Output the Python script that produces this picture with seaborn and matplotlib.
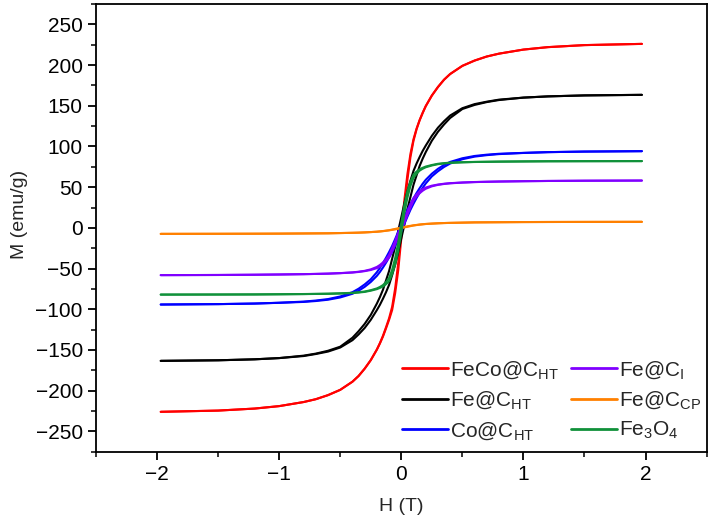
import numpy as np
import pandas as pd
import matplotlib
matplotlib.use('Agg')
import matplotlib.pyplot as plt
from matplotlib.lines import Line2D
from matplotlib.ticker import MultipleLocator
import seaborn as sns

# field grid (T), shared by both loop branches
H_GRID = [-1.97, -1.5, -1.2, -1.0, -0.8, -0.7, -0.6, -0.5, -0.4, -0.35, -0.3, -0.25, -0.2,
          -0.175, -0.15, -0.125, -0.1, -0.075, -0.05, -0.025, 0.0, 0.025, 0.05, 0.075, 0.1,
          0.125, 0.15, 0.175, 0.2, 0.25, 0.3, 0.35, 0.4, 0.5, 0.6, 0.7, 0.8, 1.0, 1.2, 1.5, 1.97]

# descending (upper) and ascending (lower) branches, emu/g
fecoc_ht_down = [-226, -224.5, -222, -219, -214, -210.5, -205.5, -199, -189, -182,
                 -173, -162.5, -149.5, -141.5, -132.5, -122, -111, -97, -74, -43,
                 -3, 34, 66, 91, 109, 122, 132.5, 141.5, 149.5, 162.5,
                 173, 182, 189, 199, 205.5, 210.5, 214, 219, 222, 224.5, 226]
fecoc_ht_up = [-226, -224.5, -222, -219, -214, -210.5, -205.5, -199, -189, -182,
               -173, -162.5, -149.5, -142, -133.5, -123.5, -113, -101, -80, -52,
               -13, 25, 59, 87, 107, 121, 132, 141, 149.5, 162.5,
               173, 182, 189, 199, 205.5, 210.5, 214, 219, 222, 224.5, 226]

fec_ht_down = [-163.4, -162.7, -161.5, -160, -157, -154.5, -151, -146, -135, -127,
               -118, -107, -93, -85, -76, -64.5, -53, -38, -23, -3.5,
               13, 30, 45, 58, 70, 79, 87, 94.5, 101, 113,
               123, 131, 138, 147, 152, 155, 157.5, 160, 161.5, 162.7, 163.4]
fec_ht_up = [-163.4, -162.7, -161.5, -160, -157.5, -155, -152, -147, -138, -131,
             -123, -113, -101, -94.5, -87, -79, -70, -58, -45, -30,
             -13, 3.5, 23, 38, 53, 64.5, 76, 85, 93, 107,
             118, 127, 135, 146, 151, 154.5, 157, 160, 161.5, 162.7, 163.4]

coc_ht_down = [-94.2, -93.7, -93, -92, -90.6, -89.3, -87.5, -84.3, -79, -74.8,
               -69.5, -63.2, -54.5, -49.2, -43.2, -36.7, -29.7, -22.2, -13.7, -4.7,
               4.3, 13.3, 22, 29.5, 36.3, 42.8, 48.7, 54.2, 59, 66.5,
               72.5, 77.3, 81, 85.5, 88.3, 89.9, 91, 92.1, 93, 93.7, 94.2]
coc_ht_up = [-94.2, -93.7, -93, -92.1, -91, -89.9, -88.3, -85.5, -81, -77.3,
             -72.5, -66.5, -59, -54.2, -48.7, -42.8, -36.3, -29.5, -22, -13.3,
             -4.3, 4.7, 13.7, 22.2, 29.7, 36.7, 43.2, 49.2, 54.5, 63.2,
             69.5, 74.8, 79, 84.3, 87.5, 89.3, 90.6, 92, 93, 93.7, 94.2]

fec_i_down = [-58.1, -57.9, -57.6, -57.3, -56.9, -56.6, -56.2, -55.6, -54.7, -53.9,
              -52.8, -51, -48, -45.6, -42.5, -38.5, -33.5, -25, -16, -6,
              2, 10, 20, 29, 36.5, 41.2, 45, 47.6, 49.5, 51.8,
              53.2, 54.2, 54.9, 55.7, 56.3, 56.6, 56.9, 57.3, 57.6, 57.9, 58.1]
fec_i_up = [-58.1, -57.9, -57.6, -57.3, -56.9, -56.6, -56.3, -55.7, -54.9, -54.2,
            -53.2, -51.8, -49.5, -47.6, -45, -41.2, -36.5, -29, -20, -10,
            -2, 6, 16, 25, 33.5, 38.5, 42.5, 45.6, 48, 51,
            52.8, 53.9, 54.7, 55.6, 56.2, 56.6, 56.9, 57.3, 57.6, 57.9, 58.1]

fec_cp_down = [-7.4, -7.3, -7.2, -7.1, -6.9, -6.8, -6.7, -6.4, -6.1, -5.9,
               -5.6, -5.2, -4.7, -4.3, -3.9, -3.4, -2.9, -2.1, -1.3, -0.5,
               0.3, 1.1, 1.9, 2.5, 3.1, 3.6, 4.1, 4.5, 4.8, 5.2,
               5.6, 5.9, 6.1, 6.4, 6.7, 6.8, 6.9, 7.1, 7.2, 7.3, 7.4]
fec_cp_up = [-7.4, -7.3, -7.2, -7.1, -6.9, -6.8, -6.7, -6.4, -6.1, -5.9,
             -5.6, -5.2, -4.8, -4.5, -4.1, -3.6, -3.1, -2.5, -1.9, -1.1,
             -0.3, 0.5, 1.3, 2.1, 2.9, 3.4, 3.9, 4.3, 4.7, 5.2,
             5.6, 5.9, 6.1, 6.4, 6.7, 6.8, 6.9, 7.1, 7.2, 7.3, 7.4]

fe3o4_down = [-82, -81.9, -81.8, -81.6, -81.3, -81.1, -80.9, -80.4, -79.8, -79.1,
              -78.2, -76.6, -74.4, -72.6, -70.3, -66.5, -61.5, -51.5, -37, -18,
              6, 28, 45, 57, 65.5, 69.2, 72, 73.8, 75.3, 77.2,
              78.7, 79.5, 80.1, 80.7, 81, 81.2, 81.4, 81.6, 81.8, 81.9, 82]
fe3o4_up = [-82, -81.9, -81.8, -81.6, -81.4, -81.2, -81, -80.7, -80.1, -79.5,
            -78.7, -77.2, -75.3, -73.8, -72, -69.2, -65.5, -57, -45, -28,
            -6, 18, 37, 51.5, 61.5, 66.5, 70.3, 72.6, 74.4, 76.6,
            78.2, 79.1, 79.8, 80.4, 80.9, 81.1, 81.3, 81.6, 81.8, 81.9, 82]

SAMPLES = ['FeCo@C$_{HT}$', 'Fe@C$_{HT}$', 'Co@C$_{HT}$',
           'Fe@C$_{I}$', 'Fe@C$_{CP}$', 'Fe$_{3}$O$_{4}$']
COLORS = ['#ff0000', '#000000', '#0000ff', '#8000ff', '#ff8000', '#10913a']
BRANCHES = [(fecoc_ht_down, fecoc_ht_up), (fec_ht_down, fec_ht_up), (coc_ht_down, coc_ht_up),
            (fec_i_down, fec_i_up), (fec_cp_down, fec_cp_up), (fe3o4_down, fe3o4_up)]

# long table: descending branch runs +H -> -H, ascending -H -> +H
rows = []
for name, (down, up) in zip(SAMPLES, BRANCHES):
    for h, m in zip(H_GRID[::-1], down[::-1]):
        rows.append({'H': h, 'M': m, 'sample': name, 'branch': 'down'})
    for h, m in zip(H_GRID, up):
        rows.append({'H': h, 'M': m, 'sample': name, 'branch': 'up'})
df = pd.DataFrame(rows)

sns.set_style('ticks')
plt.rcParams['font.family'] = ['Liberation Sans', 'DejaVu Sans']
plt.rcParams['mathtext.default'] = 'regular'

fig = plt.figure(figsize=(7.1, 5.31), dpi=100)
ax = fig.add_axes([96 / 710, 1 - 451.7 / 531, (706.6 - 96) / 710, (451.7 - 4) / 531])

sns.lineplot(data=df, x='H', y='M', hue='sample', units='branch', estimator=None,
             sort=False, hue_order=SAMPLES, palette=COLORS, linewidth=1.5,
             legend=False, ax=ax)

ax.set_xlim(-2.5, 2.5)
ax.set_ylim(-275, 275)
ax.xaxis.set_major_locator(MultipleLocator(1))
ax.xaxis.set_minor_locator(MultipleLocator(0.5))
ax.yaxis.set_major_locator(MultipleLocator(50))
ax.yaxis.set_minor_locator(MultipleLocator(25))
ax.tick_params(which='major', direction='out', length=6, width=1.3, labelsize=15,
               colors='black', top=False, right=False)
ax.tick_params(which='minor', direction='out', length=3.5, width=1.3,
               top=False, right=False)
for sp in ax.spines.values():
    sp.set_linewidth(1.3)
    sp.set_color('black')

ax.set_xlabel('H (T)', fontsize=14, labelpad=10)
ax.set_ylabel('M (emu/g)', fontsize=14)
ax.yaxis.set_label_coords(-0.112, 0.53)

handles = [Line2D([0], [0], color=c, lw=2) for c in COLORS]
ax.legend(handles, SAMPLES, ncol=2, loc='lower right', bbox_to_anchor=(1.0, 0.011),
          frameon=False, fontsize=15, handlelength=2.2, handletextpad=0.1,
          columnspacing=0.6, labelspacing=0.42, borderpad=0.2, borderaxespad=0.05)

fig.savefig('out.png', dpi=100)
